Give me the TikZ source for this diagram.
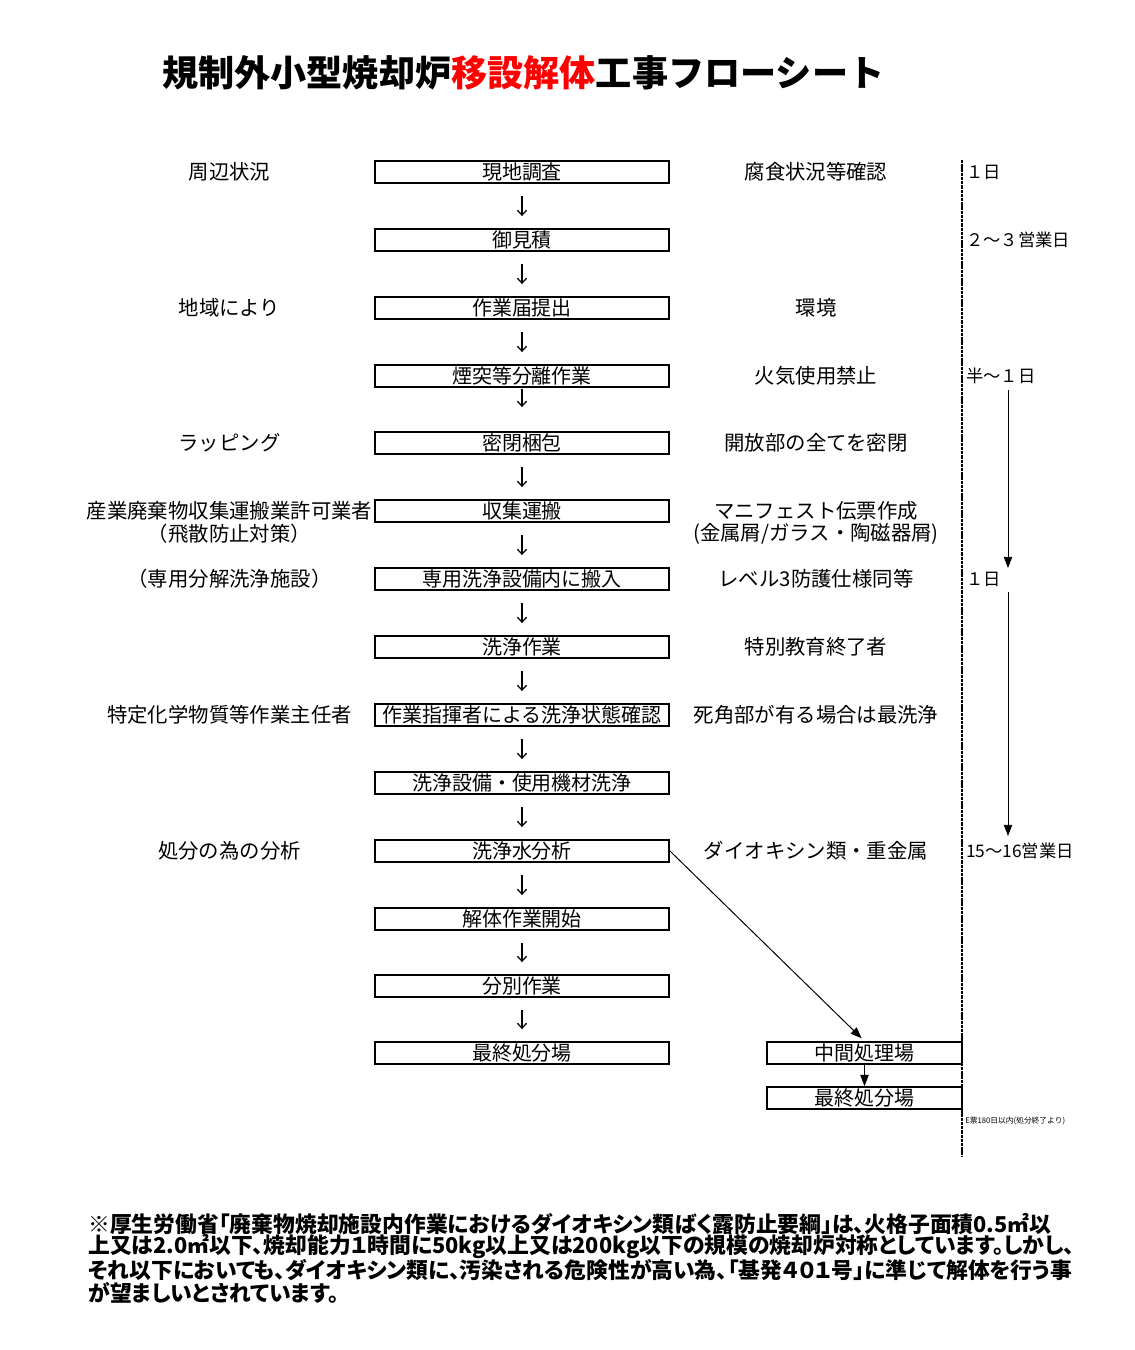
\documentclass[tikz,border=0pt]{standalone}
\usepackage{fontspec}
\setmainfont{Noto Sans CJK JP}
\newfontfamily\propfont[RawFeature=+palt]{Noto Sans CJK JP}
\usetikzlibrary{arrows.meta}
\newcommand{\myfonttitle}{\fontsize{25.7}{30}\selectfont\bfseries}
\newcommand{\myfontbox}{\fontsize{14.2}{16}\selectfont}
\newcommand{\myfontlabel}{\fontsize{14.5}{17}\selectfont}
\newcommand{\myfontdays}{\fontsize{12.3}{14}\selectfont}
\newcommand{\myfontnote}{\fontsize{5.5}{6}\selectfont}
\newcommand{\myfontfoot}{\propfont\fontsize{15.5}{16.3}\selectfont\bfseries}
\tikzset{
	stepbox/.style={draw, line width=1.3pt, minimum width=7.35cm, minimum height=0.55cm, inner sep=0pt, font=\myfontbox},
	sidebox/.style={stepbox, minimum width=4.875cm},
	lbl/.style={inner sep=0pt, font=\myfontlabel},
	days/.style={anchor=west, inner sep=0pt, font=\myfontdays},
	foot/.style={anchor=west, inner sep=0pt, font=\myfontfoot},
	flow/.style={line width=0.9pt, -{Straight Barb[length=3.5pt,width=6.5pt]}, shorten <=0.3cm, shorten >=0.3cm},
	tiparrow/.style={line width=0.7pt, -{Triangle[length=8pt,width=6pt]}},
	timeline/.style={line width=2.1pt, dash pattern=on 2.4pt off 0.6pt}
}
\begin{document}
\begin{tikzpicture}[x=0.025cm, y=-0.025cm]
	\useasboundingbox (0,0) rectangle (1134,1350);
	%Title
	\node [anchor=west, inner sep=0pt, font=\myfonttitle] (title) at (162,73) {規制外小型焼却炉\textcolor{red}{移設解体}工事フローシート};
	%Main steps
	\foreach \y/\t [count=\i] in {172/現地調査, 240/御見積, 308/作業届提出, 376/煙突等分離作業, 443/密閉梱包, 511/収集運搬, 579/専用洗浄設備内に搬入, 647/洗浄作業, 715/作業指揮者による洗浄状態確認, 783/洗浄設備・使用機材洗浄, 851/洗浄水分析, 919/解体作業開始, 986/分別作業, 1053/最終処分場} {
		\node [stepbox] (b\i) at (522,\y) {\t};
	}
	%Arrows between the steps
	\foreach \i/\j in {1/2, 2/3, 3/4, 5/6, 6/7, 7/8, 8/9, 9/10, 10/11, 11/12, 12/13, 13/14} {
		\draw [flow] (b\i) -- (b\j);
	}
	\draw [flow, shorten <=0.03cm, shorten >=0.6cm] (b4) -- (b5);
	%Left column
	\node [lbl] (l1) at (229.5,172) {周辺状況};
	\node [lbl] (l3) at (229.5,308) {地域により};
	\node [lbl] (l5) at (229.5,443) {ラッピング};
	\node [lbl] (l6) at (229.5,511) {産業廃棄物収集運搬業許可業者};
	\node [lbl] (l6b) at (229.5,534) {（飛散防止対策）};
	\node [lbl] (l7) at (229.5,579) {（専用分解洗浄施設）};
	\node [lbl] (l9) at (229.5,715) {特定化学物質等作業主任者};
	\node [lbl] (l11) at (229.5,851) {処分の為の分析};
	%Right column
	\node [lbl] (r1) at (816,172) {腐食状況等確認};
	\node [lbl] (r3) at (816,308) {環境};
	\node [lbl] (r4) at (816,376) {火気使用禁止};
	\node [lbl] (r5) at (816,443) {開放部の全てを密閉};
	\node [lbl] (r6) at (816,511) {マニフェスト伝票作成};
	\node [lbl] (r6b) at (816,534) {(金属屑/ガラス・陶磁器屑)};
	\node [lbl] (r7) at (816,579) {レベル3防護仕様同等};
	\node [lbl] (r8) at (816,647) {特別教育終了者};
	\node [lbl] (r9) at (816,715) {死角部が有る場合は最洗浄};
	\node [lbl] (r11) at (816,851) {ダイオキシン類・重金属};
	%Intermediate treatment
	\node [sidebox] (m1) at (864.5,1053) {中間処理場};
	\node [sidebox] (m2) at (864.5,1098) {最終処分場};
	\draw [tiparrow, shorten >=0.1cm] (b11.east) -- (m1.north);
	\draw [tiparrow] (m1) -- (m2);
	%Time line
	\coordinate (tltop) at (962,160);
	\coordinate (tlbot) at (962,1157);
	\draw [timeline] (tltop) -- (tlbot);
	\node [days] (d1) at (966,172) {１日};
	\node [days] (d2) at (966,240) {２～３営業日};
	\node [days] (d4) at (966,376) {半～１日};
	\node [days] (d7) at (966,579) {１日};
	\node [days] (d11) at (966,851) {15～16営業日};
	\node [days, font=\myfontnote] (dnote) at (965,1121) {E票180日以内(処分終了より)};
	\coordinate (a1s) at (1008,390);
	\coordinate (a1e) at (1008,568);
	\coordinate (a2s) at (1008,592);
	\coordinate (a2e) at (1008,836);
	\draw [tiparrow] (a1s) -- (a1e);
	\draw [tiparrow] (a2s) -- (a2e);
	%Footnote
	\node [foot] (f1) at (88,1224) {※厚生労働省「廃棄物焼却施設内作業におけるダイオキシン類ばく露防止要綱」は、火格子面積0.5㎡以};
	\node [foot] (f2) at (88,1247) {上又は2.0㎡以下、焼却能力１時間に50kg以上又は200kg以下の規模の焼却炉対称としています。しかし、};
	\node [foot] (f3) at (88,1270) {それ以下においても、ダイオキシン類に、汚染される危険性が高い為、「基発４０１号」に準じて解体を行う事};
	\node [foot] (f4) at (88,1293) {が望ましいとされています。};
\end{tikzpicture}
\end{document}
